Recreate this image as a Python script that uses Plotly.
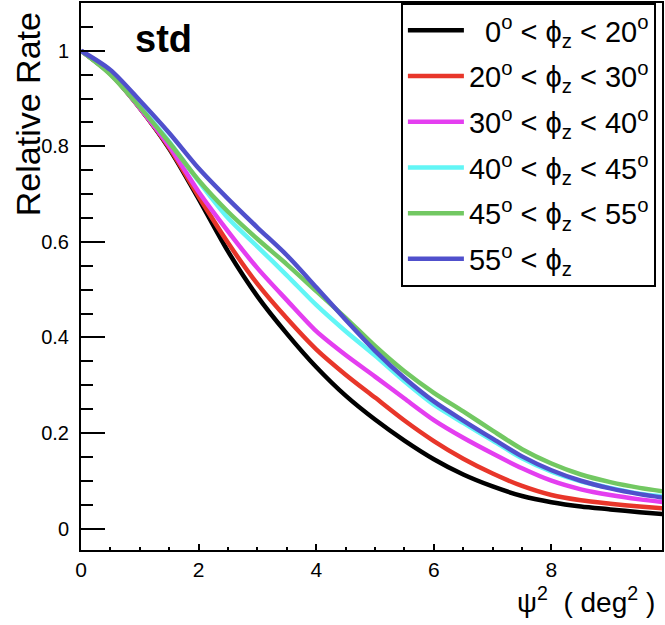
import plotly.graph_objects as go

# psi^2 (deg^2) sample positions
psi2 = [0, 0.5, 1, 1.5, 2, 2.5, 3, 3.5, 4, 4.5, 5, 5.5, 6, 6.5, 7, 7.5, 8, 8.5, 9, 9.5, 10]

rate_0_20 = [1.0, 0.952, 0.880, 0.795, 0.690, 0.580, 0.486, 0.408, 0.338, 0.278, 0.228, 0.184, 0.145,
             0.113, 0.088, 0.068, 0.055, 0.046, 0.040, 0.034, 0.029]
rate_20_30 = [1.0, 0.952, 0.880, 0.797, 0.695, 0.598, 0.512, 0.440, 0.375, 0.322, 0.274, 0.226, 0.183,
              0.146, 0.115, 0.089, 0.070, 0.059, 0.052, 0.046, 0.041]
rate_30_40 = [1.0, 0.952, 0.880, 0.800, 0.705, 0.622, 0.545, 0.478, 0.413, 0.363, 0.318, 0.272, 0.227,
              0.190, 0.157, 0.126, 0.100, 0.082, 0.070, 0.061, 0.054]
rate_40_45 = [1.0, 0.954, 0.884, 0.810, 0.727, 0.650, 0.590, 0.530, 0.468, 0.413, 0.362, 0.308, 0.259,
              0.221, 0.184, 0.147, 0.119, 0.099, 0.085, 0.073, 0.066]
rate_45_55 = [1.0, 0.950, 0.882, 0.808, 0.729, 0.663, 0.606, 0.553, 0.497, 0.441, 0.382, 0.329, 0.284,
              0.245, 0.205, 0.166, 0.136, 0.113, 0.097, 0.085, 0.076]
rate_55_up = [1.0, 0.960, 0.896, 0.828, 0.754, 0.690, 0.630, 0.572, 0.505, 0.437, 0.372, 0.315, 0.266,
              0.226, 0.188, 0.151, 0.122, 0.100, 0.084, 0.072, 0.063]

names = [
    "&nbsp;&nbsp;0<sup>o</sup> &lt; ϕ<sub>z</sub> &lt; 20<sup>o</sup>",
    "20<sup>o</sup> &lt; ϕ<sub>z</sub> &lt; 30<sup>o</sup>",
    "30<sup>o</sup> &lt; ϕ<sub>z</sub> &lt; 40<sup>o</sup>",
    "40<sup>o</sup> &lt; ϕ<sub>z</sub> &lt; 45<sup>o</sup>",
    "45<sup>o</sup> &lt; ϕ<sub>z</sub> &lt; 55<sup>o</sup>",
    "55<sup>o</sup> &lt; ϕ<sub>z</sub>",
]
series = [rate_0_20, rate_20_30, rate_30_40, rate_40_45, rate_45_55, rate_55_up]
colors = ["#000000", "#e8362a", "#e43ef0", "#62f6f6", "#72c862", "#5050cc"]

FONT = "Liberation Sans, Arial, Helvetica, sans-serif"

fig = go.Figure()
for i, (nm, ys, c) in enumerate(zip(names, series, colors)):
    fig.add_trace(go.Scatter(
        x=psi2, y=ys, name=nm, mode="lines",
        line=dict(color=c, width=4.5, shape="spline", smoothing=0.8),
        legendgroup=f"g{i}",
    ))

fig.update_layout(
    width=665, height=625,
    margin=dict(l=81, r=1, t=3, b=75),
    paper_bgcolor="white", plot_bgcolor="white",
    font=dict(family=FONT, color="black"),
    showlegend=True,
    legend=dict(
        x=(402 - 81) / 583, y=1.0, xanchor="left", yanchor="top",
        bgcolor="white", bordercolor="black", borderwidth=2,
        font=dict(size=29, family=FONT),
        tracegroupgap=5, itemwidth=56,
    ),
    xaxis=dict(
        range=[0, 9.88], showgrid=False, zeroline=False,
        showline=True, linecolor="black", linewidth=2, mirror=True,
        tick0=0, dtick=2, ticks="inside", ticklen=6, tickwidth=2, tickcolor="black",
        minor=dict(ticks="inside", dtick=0.5, ticklen=3, tickwidth=2, tickcolor="black"),
        tickfont=dict(size=21, family=FONT),
        ticklabelstandoff=0,
    ),
    yaxis=dict(
        range=[-0.045, 1.1], showgrid=False, zeroline=False,
        showline=True, linecolor="black", linewidth=2, mirror=True,
        tick0=0, dtick=0.2, ticks="inside", ticklen=24, tickwidth=2, tickcolor="black",
        minor=dict(ticks="inside", dtick=0.05, ticklen=12, tickwidth=2, tickcolor="black"),
        tickfont=dict(size=20, family=FONT),
        ticklabelstandoff=6,
    ),
    annotations=[
        dict(text="Relative Rate", textangle=-90, xref="paper", yref="paper",
             x=(28 - 81) / 583, y=(550 - 10) / 547, xanchor="center", yanchor="top",
             showarrow=False, font=dict(size=34, family=FONT)),
        dict(text="ψ<sup>2</sup>  ( deg<sup>2</sup> )", xref="paper", yref="paper",
             x=(659 - 81) / 583, y=(550 - 600) / 547, xanchor="right", yanchor="middle",
             showarrow=False, font=dict(size=28, family=FONT)),
        dict(text="<b>std</b>", xref="paper", yref="paper",
             x=(164 - 81) / 583, y=(550 - 39) / 547, xanchor="center", yanchor="middle",
             showarrow=False, font=dict(size=38, family=FONT)),
    ],
)

fig.write_html("out.html", config={"displayModeBar": False},
               post_script="document.body.style.margin='0';")
